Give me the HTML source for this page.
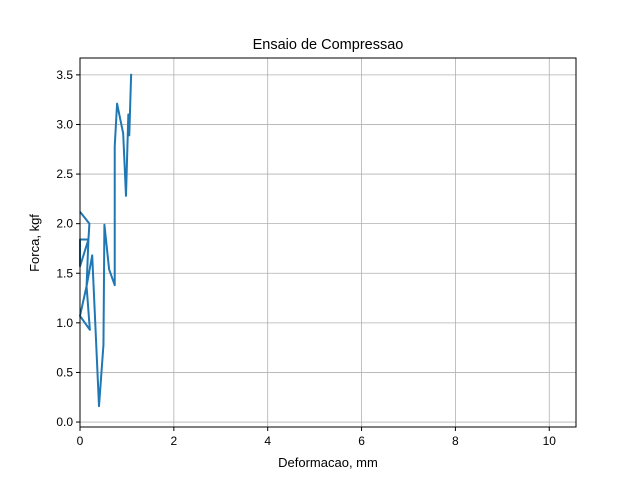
<!DOCTYPE html>
<html><head><meta charset="utf-8"><style>
body{margin:0;background:#fff;}
svg text{font-family:"Liberation Sans","DejaVu Sans",sans-serif;fill:#000;}
</style></head><body>
<svg id="chart" width="640" height="480" xmlns="http://www.w3.org/2000/svg">
<rect width="640" height="480" fill="#fff"/>
<text x="328" y="49" font-size="14.5" text-anchor="middle">Ensaio de Compressao</text>
<g id="grid"></g>
<g id="ticks"></g>
<polyline id="line" fill="none" stroke="#1f77b4" stroke-width="2" stroke-linejoin="round"/>
<rect x="80" y="58" width="496" height="369" fill="none" stroke="#000" stroke-width="1"/>
<text x="328" y="467" font-size="13" text-anchor="middle">Deformacao, mm</text>
<text transform="translate(39,243) rotate(-90)" font-size="13" text-anchor="middle">Forca, kgf</text>
</svg>
<script>
const xVals=[0,0.2,0.18,0,0,0.18,0.14,0.21,0,0,0.14,0.26,0.405,0.5,0.52,0.62,0.74,0.74,0.79,0.92,0.98,1.03,1.05,1.09];
const yVals=[2.12,2.0,1.84,1.84,1.57,1.84,1.37,0.93,1.07,1.07,1.37,1.68,0.16,0.78,1.99,1.54,1.38,2.78,3.21,2.91,2.28,3.1,2.89,3.51];
const xTicks=[0,2,4,6,8,10];
const yTicks=[0,0.5,1,1.5,2,2.5,3,3.5];
const X0=80,X1=576,Y0=427,Y1=58,xMin=0,xMax=10.57,yMin=-0.05,yMax=3.67;
const sx=v=>X0+(v-xMin)/(xMax-xMin)*(X1-X0);
const sy=v=>Y0-(v-yMin)/(yMax-yMin)*(Y0-Y1);
const NS="http://www.w3.org/2000/svg";
const grid=document.getElementById('grid'),ticks=document.getElementById('ticks');
function mk(tag,attrs,parent){const e=document.createElementNS(NS,tag);for(const k in attrs)e.setAttribute(k,attrs[k]);parent.appendChild(e);return e;}
xTicks.forEach(t=>{
 const x=sx(t);
 const g=mk('line',{x1:x,x2:x,y1:Y1,y2:Y0,stroke:'#b0b0b0','stroke-width':0.8},grid);
 
 
 const tk=mk('line',{x1:x,x2:x,y1:Y0,y2:Y0+4,stroke:'#000'},ticks);
 
 
 const tx=mk('text',{x:x,y:Y0+18,'font-size':12,'text-anchor':'middle'},ticks);
 tx.textContent=String(t);
 
 
});
yTicks.forEach(t=>{
 const y=sy(t);
 const g=mk('line',{x1:X0,x2:X1,y1:y,y2:y,stroke:'#b0b0b0','stroke-width':0.8},grid);
 
 
 const tk=mk('line',{x1:X0-4,x2:X0,y1:y,y2:y,stroke:'#000'},ticks);
 
 
 const tx=mk('text',{x:X0-7,y:y+4,'font-size':12,'text-anchor':'end'},ticks);
 tx.textContent=t.toFixed(1);
 
 
});
document.getElementById('line').setAttribute('points',xVals.map((v,i)=>sx(v)+','+sy(yVals[i])).join(' '));
</script>
</body></html>
